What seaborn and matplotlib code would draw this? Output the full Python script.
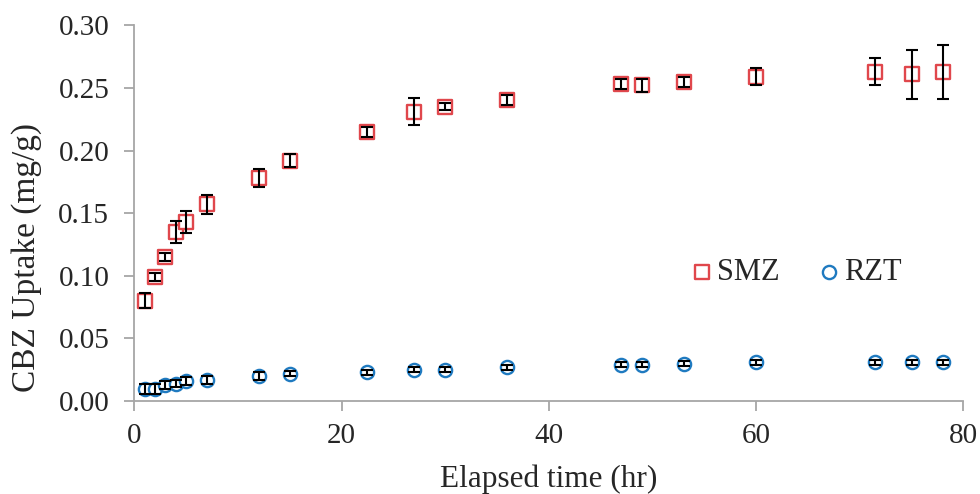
import numpy as np
import pandas as pd
import matplotlib
matplotlib.use("Agg")
import matplotlib.pyplot as plt
import seaborn as sns

# elapsed time (hr)
time_hr = [1, 2, 3, 4, 5, 7, 12, 15, 22.5, 27, 30, 36, 47, 49, 53, 60, 71.5, 75, 78]

# SMZ uptake and error (mg/g)
smz = [0.080, 0.099, 0.115, 0.135, 0.143, 0.157, 0.178, 0.192, 0.215, 0.231, 0.235, 0.240,
       0.253, 0.252, 0.255, 0.259, 0.263, 0.261, 0.263]
smz_err = [0.006, 0.003, 0.003, 0.009, 0.009, 0.0076, 0.0075, 0.005, 0.004, 0.011, 0.003, 0.004,
           0.004, 0.005, 0.004, 0.007, 0.011, 0.0195, 0.0215]

# RZT uptake and error (mg/g)
rzt = [0.010, 0.010, 0.013, 0.014, 0.016, 0.017, 0.020, 0.022, 0.023, 0.025, 0.025, 0.027,
       0.029, 0.029, 0.030, 0.031, 0.031, 0.031, 0.031]
rzt_err = [0.004, 0.004, 0.003, 0.003, 0.003, 0.003, 0.003, 0.002, 0.002, 0.002, 0.002, 0.002,
           0.002, 0.002, 0.002, 0.002, 0.002, 0.002, 0.002]

df = pd.DataFrame({"t": time_hr * 2,
                   "uptake": smz + rzt,
                   "err": smz_err + rzt_err,
                   "sorbent": ["SMZ"] * len(time_hr) + ["RZT"] * len(time_hr)})

sns.set_style("white")
plt.rcParams['font.family'] = ['Liberation Serif', 'DejaVu Serif']

fig = plt.figure(figsize=(9.8, 4.94), dpi=100)
ax = fig.add_axes([0.137, 0.188, 0.846, 0.761])

red = "#e0474c"
blue = "#1f7ac0"

for name, col, mk, ms in [("SMZ", red, "s", 10.5), ("RZT", blue, "o", 9.5)]:
    d = df[df.sorbent == name]
    sns.scatterplot(x=d.t, y=d.uptake, marker=mk, s=ms ** 2, facecolor="white",
                    edgecolor=col, linewidth=1.7, label=name, zorder=2, ax=ax)
    ax.errorbar(d.t, d.uptake, yerr=d.err, fmt="none", ecolor="black", elinewidth=1.5,
                capsize=4, capthick=1.5, zorder=3)

ax.set_xlim(0, 80)
ax.set_ylim(0, 0.30)
ax.set_xticks([0, 20, 40, 60, 80])
ax.set_yticks(np.arange(0, 0.301, 0.05))
ax.yaxis.set_major_formatter(matplotlib.ticker.FormatStrFormatter("%.2f"))
ax.set_xlabel("Elapsed time (hr)", fontsize=22.5, labelpad=11)
ax.set_ylabel("CBZ Uptake (mg/g)", fontsize=24)
ax.yaxis.set_label_coords(-0.111, 0.383)
ax.tick_params(axis="both", labelsize=21, direction="out", length=7, width=1.3,
               color="#a6a6a6", bottom=True, left=True)
ax.tick_params(axis="x", pad=9)
ax.tick_params(axis="y", pad=11)

for side in ["top", "right"]:
    ax.spines[side].set_visible(False)
for side in ["left", "bottom"]:
    ax.spines[side].set_color("#a6a6a6")
    ax.spines[side].set_linewidth(1.3)

ax.legend(loc="center", bbox_to_anchor=(0.7925, 0.343), ncol=2, frameon=False,
          fontsize=22, handletextpad=-0.2, columnspacing=0.9, handlelength=1.4)

fig.savefig("out.png", dpi=100)
